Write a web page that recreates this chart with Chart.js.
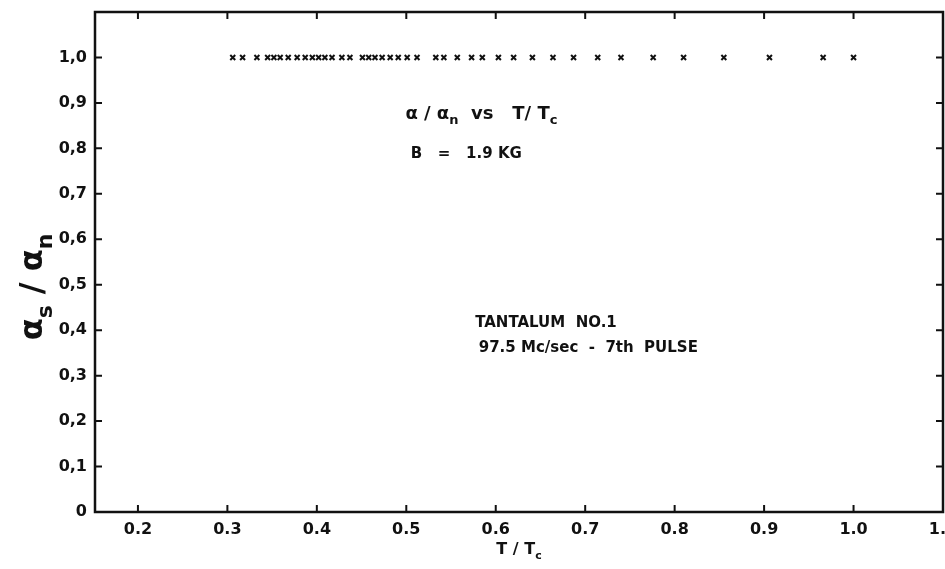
<!DOCTYPE html>
<html lang="en">
<head>
    <meta charset="UTF-8">
    <title>Tantalum No. 1 - attenuation ratio</title>
    <script src="https://cdn.jsdelivr.net/npm/chart.js"></script>
    <style>
        body { margin: 0; background: #fff; }
        #wrap { width: 945px; height: 569px; }
    </style>
</head>
<body>
    <div id="wrap">
        <canvas id="ratioChart" width="945" height="569"></canvas>
    </div>

    <script>
        // T / Tc readings and the measured attenuation ratio
        const tempRatio = [0.306, 0.317, 0.333, 0.345, 0.352, 0.359, 0.368, 0.378, 0.387, 0.395,
                           0.402, 0.409, 0.417, 0.428, 0.437, 0.451, 0.458, 0.465, 0.473, 0.482,
                           0.491, 0.501, 0.512, 0.533, 0.542, 0.557, 0.573, 0.585, 0.603, 0.620,
                           0.641, 0.664, 0.687, 0.714, 0.740, 0.776, 0.810, 0.855, 0.906, 0.966, 1.000];
        const alphaRatio = [1.0, 1.0, 1.0, 1.0, 1.0, 1.0, 1.0, 1.0, 1.0, 1.0,
                            1.0, 1.0, 1.0, 1.0, 1.0, 1.0, 1.0, 1.0, 1.0, 1.0,
                            1.0, 1.0, 1.0, 1.0, 1.0, 1.0, 1.0, 1.0, 1.0, 1.0,
                            1.0, 1.0, 1.0, 1.0, 1.0, 1.0, 1.0, 1.0, 1.0, 1.0, 1.0];
        const xTicks = [0.2, 0.3, 0.4, 0.5, 0.6, 0.7, 0.8, 0.9, 1.0, 1.1];
        const xTickLabels = ['0.2', '0.3', '0.4', '0.5', '0.6', '0.7', '0.8', '0.9', '1.0', '1.1'];
        const yTicks = [0, 0.1, 0.2, 0.3, 0.4, 0.5, 0.6, 0.7, 0.8, 0.9, 1.0];
        const yTickLabels = ['0', '0,1', '0,2', '0,3', '0,4', '0,5', '0,6', '0,7', '0,8', '0,9', '1,0'];

        const FONT = "'DejaVu Sans', sans-serif";
        const INK = '#111';

        // text with subscripts: [[text, isSub], ...]
        function drawRich(ctx, parts, x, y, size, align) {
            const subSize = Math.round(size * 0.7);
            let total = 0;
            parts.forEach(([t, sub]) => {
                ctx.font = `bold ${sub ? subSize : size}px ${FONT}`;
                total += ctx.measureText(t).width;
            });
            let cx = align === 'center' ? x - total / 2 : x;
            ctx.textBaseline = 'alphabetic';
            ctx.textAlign = 'left';
            parts.forEach(([t, sub]) => {
                ctx.font = `bold ${sub ? subSize : size}px ${FONT}`;
                ctx.fillText(t, cx, sub ? y + size * 0.3 : y);
                cx += ctx.measureText(t).width;
            });
        }

        const notes = [
            { parts: [['α / α', false], ['n', true], ['  vs   T/ T', false], ['c', true]], x: 0.499, y: 0.865, size: 18 },
            { parts: [['B   =   1.9 KG', false]], x: 0.505, y: 0.778, size: 15 },
            { parts: [['TANTALUM  NO.1', false]], x: 0.577, y: 0.408, size: 15 },
            { parts: [['97.5 Mc/sec  -  7th  PULSE', false]], x: 0.581, y: 0.352, size: 15 },
        ];

        const framePlugin = {
            id: 'frame',
            afterDraw(chart) {
                const { ctx, chartArea: a, scales } = chart;
                const xs = scales.x, ys = scales.y;
                ctx.save();
                ctx.strokeStyle = INK;
                ctx.lineWidth = 2.5;
                ctx.strokeRect(a.left, a.top, a.right - a.left, a.bottom - a.top);

                // inward tick marks on all four sides
                ctx.lineWidth = 2;
                ctx.beginPath();
                xTicks.forEach(v => {
                    const px = xs.getPixelForValue(v);
                    if (px > a.right - 2) return;
                    ctx.moveTo(px, a.bottom); ctx.lineTo(px, a.bottom - 7);
                    ctx.moveTo(px, a.top); ctx.lineTo(px, a.top + 7);
                });
                yTicks.forEach(v => {
                    const py = ys.getPixelForValue(v);
                    if (py > a.bottom - 2) return;
                    ctx.moveTo(a.left, py); ctx.lineTo(a.left + 7, py);
                    ctx.moveTo(a.right, py); ctx.lineTo(a.right - 7, py);
                });
                ctx.stroke();

                ctx.fillStyle = INK;
                notes.forEach(n => {
                    drawRich(ctx, n.parts, xs.getPixelForValue(n.x), ys.getPixelForValue(n.y), n.size, 'left');
                });

                // axis titles
                drawRich(ctx, [['T / T', false], ['c', true]], (a.left + a.right) / 2, 554, 16, 'center');
                ctx.translate(42, (a.top + a.bottom) / 2 + 25);
                ctx.rotate(-Math.PI / 2);
                drawRich(ctx, [['α', false], ['s', true], [' / α', false], ['n', true]], 0, 0, 32, 'center');
                ctx.restore();
            }
        };

        const chartConfig = {
            type: 'scatter',
            data: {
                datasets: [{
                    label: 'αs / αn',
                    data: tempRatio.map((t, i) => ({ x: t, y: alphaRatio[i] })),
                    pointStyle: 'crossRot',
                    pointRadius: 3.5,
                    pointBorderWidth: 2,
                    borderColor: INK,
                    backgroundColor: INK,
                }],
            },
            options: {
                responsive: false,
                animation: false,
                layout: { autoPadding: false, padding: { top: 12, right: 2, left: 0, bottom: 0 } },
                plugins: {
                    legend: { display: false },
                    tooltip: { enabled: false },
                },
                scales: {
                    x: {
                        type: 'linear',
                        min: 0.152,
                        max: 1.1,
                        afterBuildTicks: s => { s.ticks = xTicks.map(v => ({ value: v })); },
                        afterFit: s => { s.height = 57; s.paddingLeft = 0; s.paddingRight = 0; },
                        grid: { display: false, drawTicks: false },
                        border: { display: false },
                        ticks: {
                            color: INK,
                            padding: 8,
                            maxRotation: 0,
                            autoSkip: false,
                            font: { family: FONT, size: 16, weight: 'bold' },
                            callback: v => xTickLabels[xTicks.findIndex(t => Math.abs(t - v) < 1e-6)] ?? '',
                        },
                    },
                    y: {
                        min: 0,
                        max: 1.1,
                        afterBuildTicks: s => { s.ticks = yTicks.map(v => ({ value: v })); },
                        afterFit: s => { s.width = 95; s.paddingTop = 0; s.paddingBottom = 0; },
                        grid: { display: false, drawTicks: false },
                        border: { display: false },
                        ticks: {
                            color: INK,
                            padding: 8,
                            autoSkip: false,
                            font: { family: FONT, size: 16, weight: 'bold' },
                            callback: v => yTickLabels[yTicks.findIndex(t => Math.abs(t - v) < 1e-6)] ?? '',
                        },
                    },
                },
            },
            plugins: [framePlugin],
        };

        const ratioChart = new Chart(document.getElementById('ratioChart').getContext('2d'), chartConfig);
    </script>
</body>
</html>
